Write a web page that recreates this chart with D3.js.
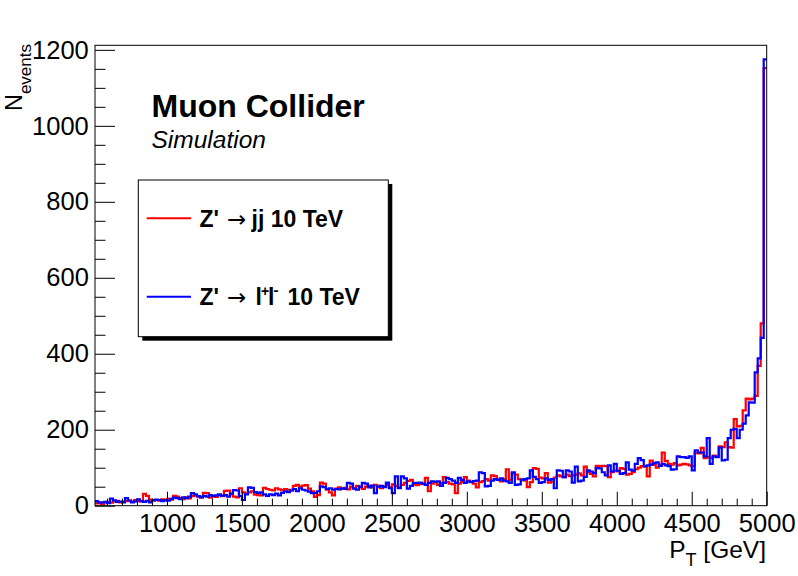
<!DOCTYPE html>
<html>
<head>
<meta charset="utf-8">
<script src="https://cdn.jsdelivr.net/npm/d3@7"></script>
<style>
  html, body { margin: 0; padding: 0; background: #fff; }
  svg { display: block; }
</style>
</head>
<body>
<svg id="chart" width="798" height="576" font-family="'Liberation Sans', Arial, Helvetica, sans-serif"></svg>
<script>
// ---------------- data ----------------
const xMin = 520, xMax = 5000, binWidth = 20;
const yMax = 1212;
const xMajorTicks = [1000, 1500, 2000, 2500, 3000, 3500, 4000, 4500, 5000];
const yMajorTicks = [0, 200, 400, 600, 800, 1000, 1200];

// Z' -> jj 10 TeV (red), one value per 20 GeV bin starting at 520 GeV
const redCounts = [
  6, 8, 5, 9, 10, 8, 11, 13, 9, 10,
  12, 14, 10, 15, 12, 11, 31, 26, 16, 14,
  15, 13, 17, 14, 18, 16, 26, 24, 20, 17,
  22, 19, 25, 27, 24, 22, 34, 33, 21, 26,
  23, 28, 25, 39, 40, 30, 24, 22, 46, 35,
  32, 35, 38, 29, 28, 27, 47, 44, 42, 40,
  46, 43, 41, 44, 42, 40, 52, 55, 50, 53,
  54, 45, 38, 23, 28, 61, 58, 42, 35, 27,
  45, 48, 44, 47, 43, 50, 46, 52, 48, 44,
  50, 52, 48, 55, 52, 46, 50, 54, 49, 56,
  52, 48, 55, 60, 65, 68, 56, 54, 58, 57,
  73, 38, 58, 62, 55, 59, 75, 62, 58, 56,
  33, 58, 62, 75, 66, 63, 58, 48, 62, 65,
  70, 66, 80, 78, 68, 64, 70, 96, 68, 86,
  82, 70, 68, 66, 49, 62, 99, 97, 74, 72,
  86, 61, 63, 74, 80, 77, 75, 82, 78, 80,
  82, 85, 80, 103, 88, 84, 77, 105, 104, 105,
  104, 75, 88, 92, 90, 99, 97, 82, 84, 88,
  96, 100, 104, 103, 77, 119, 108, 100, 106, 140,
  118, 110, 108, 112, 106, 108, 110, 109, 106, 104,
  139, 138, 152, 125, 128, 126, 132, 130, 156, 154,
  167, 154, 153, 228, 209, 210, 251, 282, 280, 282,
  289, 368, 480, 1152
];

// Z' -> l+l- 10 TeV (blue)
const blueCounts = [
  12, 8, 9, 10, 7, 19, 14, 10, 11, 9,
  20, 13, 9, 11, 17, 12, 10, 13, 9, 14,
  16, 15, 12, 15, 13, 18, 21, 20, 17, 22,
  20, 24, 33, 30, 25, 22, 26, 24, 28, 25,
  27, 30, 26, 28, 24, 32, 41, 40, 26, 15,
  30, 48, 47, 36, 34, 35, 30, 26, 30, 28,
  32, 27, 34, 38, 36, 40, 44, 38, 46, 42,
  40, 37, 33, 34, 38, 51, 49, 44, 46, 42,
  44, 43, 46, 44, 60, 58, 45, 42, 50, 60,
  58, 48, 53, 33, 50, 52, 49, 61, 46, 33,
  77, 46, 77, 72, 45, 52, 60, 60, 61, 58,
  55, 60, 64, 63, 64, 52, 60, 73, 70, 66,
  60, 73, 68, 60, 64, 62, 65, 66, 88, 86,
  51, 52, 66, 70, 68, 72, 66, 64, 60, 88,
  55, 56, 68, 70, 72, 93, 76, 70, 60, 62,
  72, 68, 70, 46, 93, 92, 75, 93, 90, 61,
  103, 64, 66, 76, 93, 90, 86, 99, 98, 88,
  80, 106, 90, 110, 92, 84, 86, 114, 95, 92,
  110, 125, 120, 104, 106, 108, 112, 114, 105, 110,
  106, 104, 95, 96, 130, 128, 128, 126, 130, 93,
  146, 140, 140, 130, 178, 110, 130, 128, 153, 119,
  121, 178, 200, 202, 178, 200, 216, 238, 272, 271,
  351, 388, 442, 1175
];

// ---------------- layout ----------------
const frame = { left: 95, right: 766.7, top: 45.3, bottom: 505.7 };
const svg = d3.select("#chart");
svg.append("rect").attr("width", 798).attr("height", 576).attr("fill", "#fff");

const x = d3.scaleLinear().domain([xMin, xMax]).range([frame.left, frame.right]);
const y = d3.scaleLinear().domain([0, yMax]).range([frame.bottom, frame.top]);

// ---------------- histograms ----------------
function histPoints(counts) {
  const pts = counts.map((c, i) => [xMin + i * binWidth, c]);
  pts.push([xMin + counts.length * binWidth, counts[counts.length - 1]]);
  return pts;
}
const line = d3.line().x(d => x(d[0])).y(d => y(d[1])).curve(d3.curveStepAfter);

svg.append("path").attr("d", line(histPoints(redCounts)))
  .attr("fill", "none").attr("stroke", "#ff0000").attr("stroke-width", 2.2);
svg.append("path").attr("d", line(histPoints(blueCounts)))
  .attr("fill", "none").attr("stroke", "#0000ff").attr("stroke-width", 2.2);

// ---------------- axes ----------------
const labelFont = 25.5;
const xMinor = d3.range(600, 5000, 100).filter(v => v % 500 !== 0);
const yMinor = d3.range(50, 1201, 50).filter(v => v % 200 !== 0);

const gx = svg.append("g").attr("transform", `translate(0,${frame.bottom})`);
gx.call(d3.axisBottom(x).tickValues(xMajorTicks).tickSize(-14).tickPadding(8.2).tickFormat(d3.format("d")));
gx.append("g").call(d3.axisBottom(x).tickValues(xMinor).tickSize(-7).tickFormat(""));
gx.selectAll(".domain").remove();

const gy = svg.append("g").attr("transform", `translate(${frame.left},0)`);
gy.call(d3.axisLeft(y).tickValues(yMajorTicks).tickSize(-20).tickPadding(6.2).tickFormat(d3.format("d")));
gy.append("g").call(d3.axisLeft(y).tickValues(yMinor).tickSize(-10.5).tickFormat(""));
gy.selectAll(".domain").remove();

svg.selectAll(".tick line").attr("stroke", "#000").attr("stroke-width", 1);
svg.selectAll(".tick text").attr("font-size", labelFont).attr("fill", "#000");
gx.attr("font-size", null).attr("font-family", null);
gy.attr("font-size", null).attr("font-family", null);

// frame
svg.append("rect")
  .attr("x", frame.left).attr("y", frame.top)
  .attr("width", frame.right - frame.left).attr("height", frame.bottom - frame.top)
  .attr("fill", "none").attr("stroke", "#000").attr("stroke-width", 1);

// axis titles
const xt = svg.append("text").attr("x", 766).attr("y", 557.5)
  .attr("text-anchor", "end").attr("font-size", 24.5);
xt.append("tspan").text("P");
xt.append("tspan").attr("font-size", 18).attr("dy", 8).text("T");
xt.append("tspan").attr("dy", -8).text(" [GeV]");

const yt = svg.append("text").attr("transform", "translate(21.5,44) rotate(-90)")
  .attr("text-anchor", "end").attr("font-size", 23.5);
yt.append("tspan").text("N");
yt.append("tspan").attr("font-size", 17).attr("dy", 9).text("events");

// ---------------- labels ----------------
svg.append("text").attr("x", 151.5).attr("y", 117.3)
  .attr("font-size", 32).attr("font-weight", "bold").text("Muon Collider");
svg.append("text").attr("x", 151.5).attr("y", 148.3)
  .attr("font-size", 24.5).attr("font-style", "italic").text("Simulation");

// ---------------- legend ----------------
const lg = { x: 138.3, y: 180, w: 250, h: 156.7, sh: 4 };
svg.append("rect").attr("x", lg.x + lg.sh).attr("y", lg.y + lg.sh)
  .attr("width", lg.w).attr("height", lg.h).attr("fill", "#000");
svg.append("rect").attr("x", lg.x).attr("y", lg.y)
  .attr("width", lg.w).attr("height", lg.h)
  .attr("fill", "#fff").attr("stroke", "#000").attr("stroke-width", 1);

const legendEntries = [
  { color: "#ff0000", ly: 218.3, base: 226.7 },
  { color: "#0000ff", ly: 296.7, base: 305 }
];
legendEntries.forEach(e => {
  svg.append("line").attr("x1", 146.7).attr("x2", 191).attr("y1", e.ly).attr("y2", e.ly)
    .attr("stroke", e.color).attr("stroke-width", 2);
  svg.append("text").attr("x", 199.5).attr("y", e.base)
    .attr("font-size", 23).attr("font-weight", "bold").text("Z'");
  svg.append("text").attr("x", 227).attr("y", e.base)
    .style("font-family", "'DejaVu Sans', sans-serif")
    .attr("font-size", 23).attr("font-weight", "normal").text("\u2192");
});
// entry 1
svg.append("text").attr("x", 251.5).attr("y", 226.7)
  .attr("font-size", 23).attr("font-weight", "bold").text("jj 10 TeV");
// entry 2
const b2 = 305;
svg.append("text").attr("x", 255.5).attr("y", b2).attr("font-size", 23).attr("font-weight", "bold").text("l");
svg.append("text").attr("x", 261).attr("y", b2 - 9).attr("font-size", 14).attr("font-weight", "bold").text("+");
svg.append("text").attr("x", 268).attr("y", b2).attr("font-size", 23).attr("font-weight", "bold").text("l");
svg.append("text").attr("x", 273.5).attr("y", b2 - 10).attr("font-size", 15).attr("font-weight", "bold").text("-");
svg.append("text").attr("x", 287.5).attr("y", b2).attr("font-size", 23).attr("font-weight", "bold").text("10 TeV");
</script>
</body>
</html>
